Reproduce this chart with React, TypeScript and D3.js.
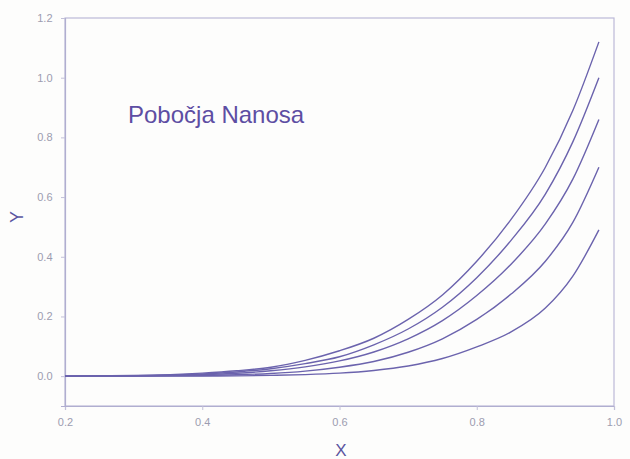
import React, { useEffect, useRef } from 'react';
import * as d3 from 'd3';

const xs = [0.2, 0.3, 0.4, 0.45, 0.5, 0.55, 0.6, 0.65, 0.7, 0.75, 0.8, 0.85, 0.9, 0.94, 0.978];

// five curves, top to bottom
const curve1 = [0.0, 0.002, 0.01, 0.018, 0.03, 0.053, 0.085, 0.127, 0.19, 0.272, 0.385, 0.525, 0.7, 0.89, 1.12];
const curve2 = [0.0, 0.0015, 0.007, 0.014, 0.025, 0.042, 0.065, 0.105, 0.158, 0.231, 0.33, 0.455, 0.61, 0.785, 1.0];
const curve3 = [0.0, 0.001, 0.005, 0.0097, 0.018, 0.031, 0.051, 0.081, 0.125, 0.186, 0.27, 0.375, 0.51, 0.66, 0.86];
const curve4 = [0.0, 0.0004, 0.002, 0.0045, 0.009, 0.017, 0.03, 0.049, 0.08, 0.125, 0.19, 0.275, 0.385, 0.515, 0.7];
const curve5 = [0.0, 0.0, 0.0004, 0.001, 0.0025, 0.0052, 0.01, 0.019, 0.034, 0.059, 0.098, 0.148, 0.228, 0.335, 0.49];

const series = [curve1, curve2, curve3, curve4, curve5];

const xTicks = [0.2, 0.4, 0.6, 0.8, 1.0];
const yTicks = [0.0, 0.2, 0.4, 0.6, 0.8, 1.0, 1.2];

const title = 'Pobočja Nanosa';

export default function App() {
	const ref = useRef<SVGSVGElement>(null);

	useEffect(() => {
		const svg = d3.select(ref.current);
		svg.selectAll('*').remove();

		const width = 630, height = 459;
		const left = 65, right = 614, top = 18, bottom = 406;

		const x = d3.scaleLinear().domain([0.2, 1.0]).range([left, right]);
		const y = d3.scaleLinear().domain([-0.1, 1.2]).range([bottom, top]);

		svg.attr('width', width).attr('height', height);
		svg.append('rect').attr('width', width).attr('height', height).attr('fill', '#fdfdfc');

		// frame
		svg.append('rect')
			.attr('x', left).attr('y', top)
			.attr('width', right - left).attr('height', bottom - top)
			.attr('fill', 'none')
			.attr('stroke', '#bcb9d8')
			.attr('stroke-width', 1.2);

		// axes
		const xAxis = d3.axisBottom(x).tickValues(xTicks).tickSize(4).tickFormat(d3.format('.1f'));
		const yAxis = d3.axisLeft(y).tickValues(yTicks).tickSize(4).tickFormat(d3.format('.1f'));

		const gx = svg.append('g').attr('transform', `translate(0,${bottom})`).call(xAxis);
		const gy = svg.append('g').attr('transform', `translate(${left},0)`).call(yAxis);

		[gx, gy].forEach(g => {
			g.select('.domain').attr('stroke', '#b0aed0').attr('stroke-width', 1.2);
			g.selectAll('.tick line').attr('stroke', '#c2c0d8');
			g.selectAll('.tick text')
				.attr('fill', '#9c9cb0')
				.attr('font-family', 'Arial, "Liberation Sans", sans-serif')
				.attr('font-size', 11);
		});
		gx.selectAll('.tick text').attr('dy', '1.2em');
		gy.selectAll('.tick text').attr('dx', '-0.5em');

		// curves
		const line = d3.line<number>()
			.x((_, i) => x(xs[i]))
			.y(d => y(d))
			.curve(d3.curveMonotoneX);

		series.forEach(s => {
			svg.append('path')
				.datum(s)
				.attr('d', line)
				.attr('fill', 'none')
				.attr('stroke', '#6b63ad')
				.attr('stroke-width', 1.4);
		});

		// labels
		svg.append('text')
			.attr('x', 128).attr('y', 123)
			.attr('font-family', 'Arial, "Liberation Sans", sans-serif')
			.attr('font-size', 24)
			.attr('fill', '#5d4ea3')
			.text(title);

		svg.append('text')
			.attr('x', 341).attr('y', 456)
			.attr('text-anchor', 'middle')
			.attr('font-family', 'Arial, "Liberation Sans", sans-serif')
			.attr('font-size', 17)
			.attr('fill', '#5a55a0')
			.text('X');

		svg.append('text')
			.attr('transform', 'translate(23,217) rotate(-90)')
			.attr('text-anchor', 'middle')
			.attr('font-family', 'Arial, "Liberation Sans", sans-serif')
			.attr('font-size', 18)
			.attr('fill', '#5a55a0')
			.text('Y');
	}, []);

	return (
		<svg ref={ref} style={{ position: 'absolute', left: 0, top: 0 }} />
	);
}
